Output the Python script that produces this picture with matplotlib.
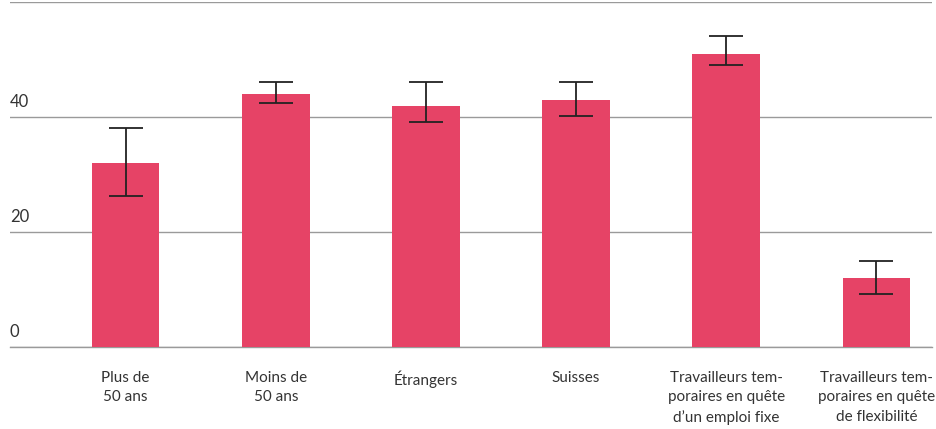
import numpy as np
import matplotlib.pyplot as plt
import matplotlib.transforms as mtransforms

plt.rcParams['font.family'] = ['Lato', 'DejaVu Sans']

categories = ['Plus de\n50 ans', 'Moins de\n50 ans', 'Étrangers', 'Suisses',
              'Travailleurs tem-\nporaires en quête\nd\u2019un emploi fixe',
              'Travailleurs tem-\nporaires en quête\nde flexibilité']
values = [32, 44, 42, 43, 51, 12]
err_low = [26.3, 42.4, 39.1, 40.2, 49.0, 9.2]
err_high = [38.1, 46.1, 46.1, 46.1, 54.1, 15.0]
ytick_vals = [0, 20, 40]

vals = np.array(values)
yerr = np.array([vals - np.array(err_low), np.array(err_high) - vals])
x = np.arange(len(categories))

fig = plt.figure(figsize=(9.37, 4.29), dpi=100)
ax = fig.add_axes([10/937, 82/429, 922/937, 345/429])

ax.bar(x, vals, width=0.45, color='#E64366', zorder=2)
ax.errorbar(x, vals, yerr=yerr, fmt='none', ecolor='#222222', elinewidth=1.3,
            capsize=12, capthick=1.3, zorder=3)

ax.set_xlim(-0.77, 5.37)
ax.set_ylim(0, 60)
ax.set_yticks([0, 20, 40, 60])
ax.yaxis.grid(True, color='#9a9a9a', linewidth=1.0)
ax.axhline(0, color='#9a9a9a', linewidth=1.0, clip_on=False, zorder=1)
ax.set_axisbelow(True)
ax.tick_params(axis='y', length=0, labelleft=False)
for s in ax.spines.values():
    s.set_visible(False)

trans = mtransforms.blended_transform_factory(ax.transAxes, ax.transData)
for v in ytick_vals:
    ax.annotate(str(v), xy=(0, v), xycoords=trans, xytext=(0, 5),
                textcoords='offset points', ha='left', va='bottom',
                fontsize=12, color='#333333')

ax.set_xticks(x)
ax.set_xticklabels(categories, fontsize=11, color='#333333', linespacing=1.5)
ax.tick_params(axis='x', length=0, pad=17)

fig.savefig('out.png', dpi=100)
